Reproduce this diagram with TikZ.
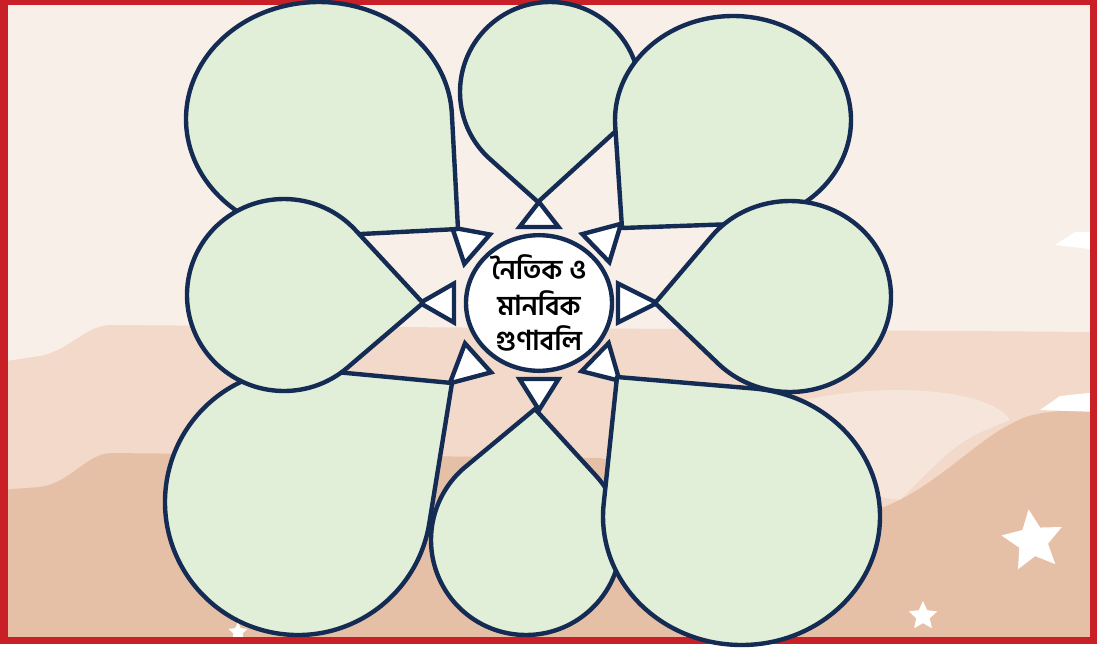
\documentclass[tikz,border=0pt]{standalone}
\usepackage{fontspec}
\newfontfamily\bnfont[Script=Bengali]{Hind Siliguri}
\usetikzlibrary{shapes.geometric,calc}

\definecolor{navy}{RGB}{20,44,84}
\definecolor{leaf}{RGB}{225,238,216}
\definecolor{frame}{RGB}{200,32,38}
\definecolor{skytop}{RGB}{249,239,233}
\definecolor{cloud}{RGB}{246,229,219}
\definecolor{sandmid}{RGB}{242,217,201}
\definecolor{sandlow}{RGB}{230,192,166}

\tikzset{
  drop/.style={draw=navy, fill=leaf, line width=1.1mm, line join=round},
  wedge/.style={draw=navy, fill=white, line width=1.1mm, line join=miter},
  core/.style={ellipse, draw=navy, fill=white, line width=1.1mm,
    minimum width=36.5mm, minimum height=32.5mm, inner sep=0pt, align=center,
    font=\bnfont\bfseries\fontsize{19.5pt}{25pt}\selectfont},
  sparkle/.style={star, star points=5, star point ratio=2.1, fill=white, inner sep=0pt}
}

\begin{document}
\begin{tikzpicture}[x=0.25mm, y=-0.25mm, line cap=round]
  \useasboundingbox (0,0) rectangle (1098,650);
  \fill[white] (0,0) rectangle (1098,650);

  % background
  \begin{scope}
    \clip (4,1) rectangle (1093,640);
    \fill[skytop] (0,0) rectangle (1098,650);
    \fill[sandmid] (0,362) -- (40,356) .. controls (70,350) and (85,326) .. (110,325)
      -- (1098,332) -- (1098,650) -- (0,650) -- cycle;
    \fill[cloud] (700,470) .. controls (720,380) and (980,370) .. (1010,420)
      .. controls (960,440) .. (900,500) -- cycle;
    \fill[sandlow] (0,490) -- (40,487) .. controls (70,483) and (85,455) .. (110,453)
      -- (600,458) -- (860,515) .. controls (920,500) and (960,455) .. (1000,430)
      .. controls (1030,413) .. (1098,408) -- (1098,650) -- (0,650) -- cycle;
    \fill[white] (1040,410) -- (1060,396) -- (1098,392) -- (1098,412) -- cycle;
    \fill[white] (1055,245) -- (1075,232) -- (1098,232) -- (1098,250) -- cycle;
    \node[sparkle, minimum size=16mm, rotate=8] (bigstar) at (1033,541) {};
    \node[sparkle, minimum size=7.5mm] (smallstar) at (923,616) {};
    \node[sparkle, minimum size=5mm] (cornerstar) at (238,632) {};
  \end{scope}
  \draw[frame, line width=1.75mm] (4,1) rectangle (1093,640);

  \node[core] (core) at (539,303) {নৈতিক ও\\মানবিক\\গুণাবলি};

  % arrow heads round the centre
  \foreach \a/\ra/\rb in {0/79/118, 44/78/112, 90/76/107, 138/82/120,
                          180/85/119, 221/82/115, 270/76/101, 316/79/114}
    \draw[wedge] ($(core.center)+(\a:\rb)$) -- ($(core.center)+(\a:\ra)+({\a+90}:19.5)$)
      -- ($(core.center)+(\a:\ra)+({\a-90}:19.5)$) -- cycle;

  % teardrops: centre, radii, arc angles, tip
  \foreach \cx/\cy/\rx/\ry/\sa/\ea/\tx/\ty in {
      550/92/90/90/131.8/372/538/202,
      319/119/133/117/86.7/357.3/458/229,
      733/120/118/104/176.6/447.8/622/228,
      526/540/95/95/-42.5/230.3/535/409,
      298/502/133/133/9.2/275.4/452/383,
      741.5/516.5/138.5/128.5/275.2/545.6/617/377,
      284/295/97/96/49.1/317.5/423/303,
      790/296.5/101/95.5/218.8/495.4/655/303}
    \draw[drop] (\tx,\ty) -- ($(\cx,\cy)+(\sa:{\rx} and {\ry})$)
      arc[start angle=\sa, end angle=\ea, x radius=\rx, y radius=\ry] -- cycle;
\end{tikzpicture}
\end{document}
